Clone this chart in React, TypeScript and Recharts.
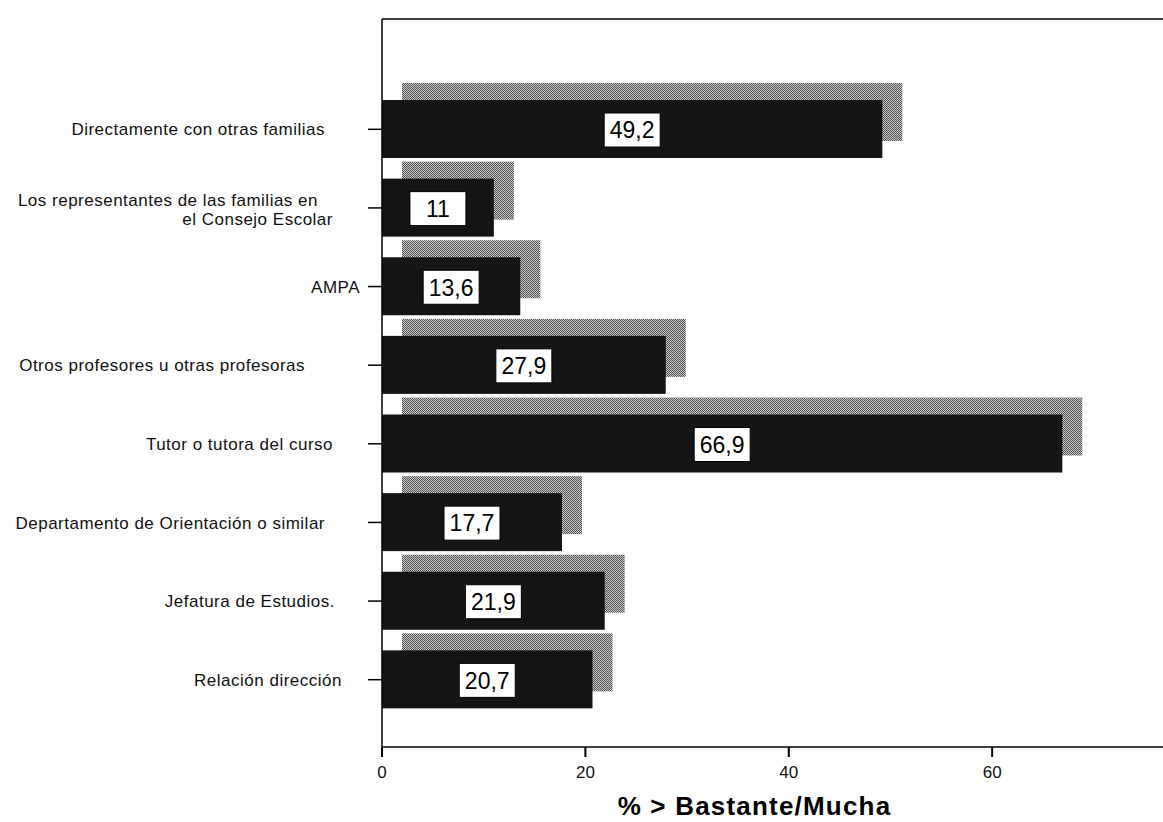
import React from "react";
import { BarChart, Bar, XAxis, YAxis, LabelList } from "recharts";

const CATEGORIES = [
  "Directamente con otras familias",
  "Los representantes de las familias en\nel Consejo Escolar",
  "AMPA",
  "Otros profesores u otras profesoras",
  "Tutor o tutora del curso",
  "Departamento de Orientación o similar",
  "Jefatura de Estudios.",
  "Relación dirección",
];

const VALUES = [49.2, 11, 13.6, 27.9, 66.9, 17.7, 21.9, 20.7];

const X_TICKS = [0, 20, 40, 60];
const X_MAX = 76.8;
const X_TITLE = "% > Bastante/Mucha";

// right edge of each category label line (the labels are not aligned evenly)
const LABEL_RIGHT = [[325], [318, 333], [360], [305], [333], [325], [335], [342]];

const FONT = "'Liberation Sans', Arial, Helvetica, sans-serif";
const SHADOW_DX = 20;
const SHADOW_DY = 17;

const data = CATEGORIES.map((name, i) => ({ name, value: VALUES[i] }));

function CategoryTick(props: any) {
  const { y, payload } = props;
  const idx = CATEGORIES.indexOf(payload.value);
  const lines = String(payload.value).split("\n");
  const rights = LABEL_RIGHT[idx] ?? [364];
  const step = 19;
  const start = lines.length > 1 ? -8 : 0;
  return (
    <g>
      {lines.map((line, i) => (
        <text
          key={i}
          x={rights[i] ?? rights[0]}
          y={y + start + i * step}
          dy="0.36em"
          textAnchor="end"
          fontSize={17}
          letterSpacing={0.5}
          fontFamily={FONT}
          fill="#111"
        >
          {line}
        </text>
      ))}
    </g>
  );
}

// dark bar with a grey copy drawn behind it, shifted right and up
function ShadowBar(props: any) {
  const { x, y, width, height } = props;
  if (width == null || height == null) return null;
  return (
    <g>
      <rect
        x={x + SHADOW_DX}
        y={y - SHADOW_DY}
        width={width}
        height={height}
        fill="url(#dither)"
      />
      <rect x={x} y={y} width={width} height={height} fill="#151515" />
    </g>
  );
}

function ValueBox(props: any) {
  const { x, y, width, height, value } = props;
  const cx = x + width / 2;
  const cy = y + height / 2 + 1;
  return (
    <g>
      <rect
        x={cx - 28}
        y={cy - 17}
        width={56}
        height={34}
        fill="#fff"
        stroke="#000"
        strokeWidth={1}
      />
      <text
        x={cx}
        y={cy}
        dy="0.36em"
        textAnchor="middle"
        fontSize={23}
        fontFamily={FONT}
        fill="#000"
      >
        {String(value).replace(".", ",")}
      </text>
    </g>
  );
}

export default function App() {
  return (
    <div style={{ width: 1163, height: 822, background: "#fff", fontFamily: FONT }}>
      <style>{"body{margin:0}"}</style>
      <BarChart
        width={1163}
        height={822}
        data={data}
        layout="vertical"
        margin={{ top: 18, right: 0, bottom: 0, left: 0 }}
      >
        <defs>
          <pattern id="dither" patternUnits="userSpaceOnUse" width={2} height={2}>
            <rect x={0} y={0} width={2} height={2} fill="#c6c6c6" />
            <rect x={0} y={0} width={1} height={1} fill="#555" />
            <rect x={1} y={1} width={1} height={1} fill="#555" />
          </pattern>
        </defs>
        <XAxis
          xAxisId="top"
          orientation="top"
          type="number"
          domain={[0, X_MAX]}
          tick={false}
          tickLine={false}
          height={1}
          axisLine={{ stroke: "#000", strokeWidth: 1.5 }}
        />
        <XAxis
          type="number"
          domain={[0, X_MAX]}
          ticks={X_TICKS}
          interval={0}
          height={75}
          tickSize={10}
          tickMargin={9}
          axisLine={{ stroke: "#000", strokeWidth: 1.5 }}
          tickLine={{ stroke: "#000", strokeWidth: 2 }}
          tick={{ fontSize: 17, fill: "#111", fontFamily: FONT }}
          label={{
            value: X_TITLE,
            position: "insideBottom",
            offset: 7,
            dx: -18,
            style: {
              fontSize: 26,
              fontWeight: "bold",
              letterSpacing: 1.2,
              fill: "#000",
              fontFamily: FONT,
            },
          }}
        />
        <YAxis
          type="category"
          dataKey="name"
          width={382}
          interval={0}
          tickSize={14}
          padding={{ top: 71, bottom: 28 }}
          axisLine={{ stroke: "#000", strokeWidth: 1.5 }}
          tickLine={{ stroke: "#000", strokeWidth: 1.5 }}
          tick={<CategoryTick />}
        />
        <Bar
          dataKey="value"
          xAxisId={0}
          barSize={58}
          shape={<ShadowBar />}
          isAnimationActive={false}
        >
          <LabelList dataKey="value" content={<ValueBox />} />
        </Bar>
      </BarChart>
    </div>
  );
}
